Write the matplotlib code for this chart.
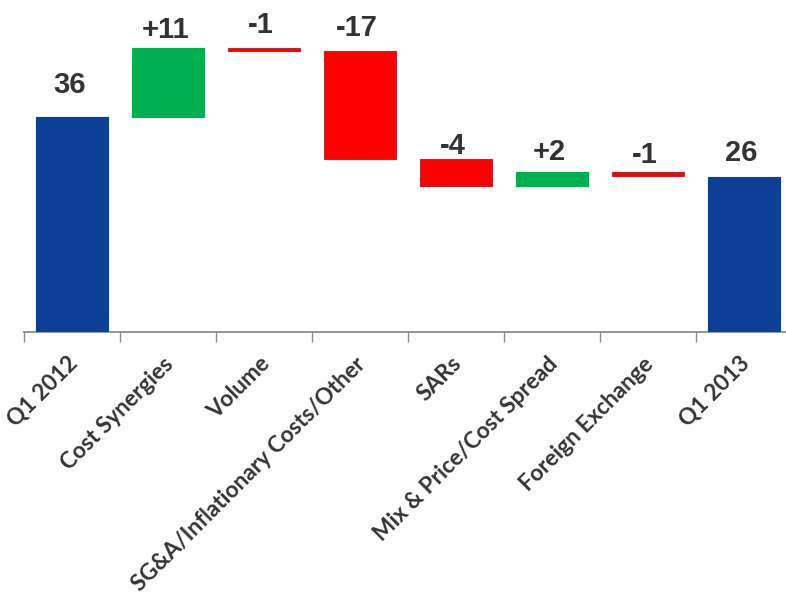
import matplotlib
matplotlib.use("Agg")
import matplotlib.pyplot as plt
import matplotlib.transforms as mtransforms
import numpy as np

categories = ["Q1 2012", "Cost Synergies", "Volume", "SG&A/Inflationary Costs/Other",
              "SARs", "Mix & Price/Cost Spread", "Foreign Exchange", "Q1 2013"]
start_value = 36.0
deltas = [11.4, -0.5, -17.9, -4.5, 2.3, -0.7]
end_value = 26.0
value_labels = ["36", "+11", "-1", "-17", "-4", "+2", "-1", "26"]

# style
label_offsets_pt = [23, 13, 17, 17, 9, 14, 12, 17]
c_total = "#0D3F96"
c_up = "#00B050"
c_down = "#FF0000"
c_down_edge = "#C0272D"

fig = plt.figure(figsize=(7.86, 5.99), dpi=100)
ax = fig.add_axes([24/786, (599-332.3)/599, 768/786, 299.5/599])

n = len(categories)
x = np.arange(n)
bottoms, heights, colors, edges = [], [], [], []
bottoms.append(0); heights.append(start_value); colors.append(c_total); edges.append(c_total)
level = start_value
for d in deltas:
    new = level + d
    bottoms.append(min(level, new)); heights.append(abs(d))
    colors.append(c_up if d > 0 else c_down)
    edges.append(c_up if d > 0 else c_down_edge)
    level = new
bottoms.append(0); heights.append(end_value); colors.append(c_total); edges.append(c_total)

ax.bar(x, heights, bottom=bottoms, width=0.74, color=colors, edgecolor=edges, linewidth=0.8, zorder=3)

tops = [b + h for b, h in zip(bottoms, heights)]
for xi, t, lab, off in zip(x, tops, value_labels, label_offsets_pt):
    ax.annotate(lab, (xi, t), xytext=(-2, off), textcoords="offset points",
                ha="center", va="center", fontsize=21, fontweight="bold",
                family="Liberation Sans", color="#333333", annotation_clip=False)

ax.set_xlim(-0.5, n - 0.5)
ax.set_ylim(0, 50)
for s in ["top", "right", "left"]:
    ax.spines[s].set_visible(False)
ax.spines["bottom"].set_color("#8C8C8C")
ax.spines["bottom"].set_linewidth(1.3)
ax.set_yticks([])
ax.set_xticks(np.arange(-0.5, n, 1.0))
ax.set_xticklabels([])
ax.tick_params(axis="x", which="major", length=7, width=1.0, color="#8C8C8C", direction="out")
ax.set_xticks(x, minor=True)
ax.set_xticklabels(categories, minor=True, rotation=45, ha="right", rotation_mode="anchor",
                   fontsize=16.3, fontweight="bold", family="Lato", color="#333333")
ax.tick_params(axis="x", which="minor", length=0, pad=15)
shift = mtransforms.ScaledTranslation(-5/100, 0, fig.dpi_scale_trans)
for lbl in ax.get_xticklabels(minor=True):
    lbl.set_transform(lbl.get_transform() + shift)

fig.savefig("out.png", dpi=100)
